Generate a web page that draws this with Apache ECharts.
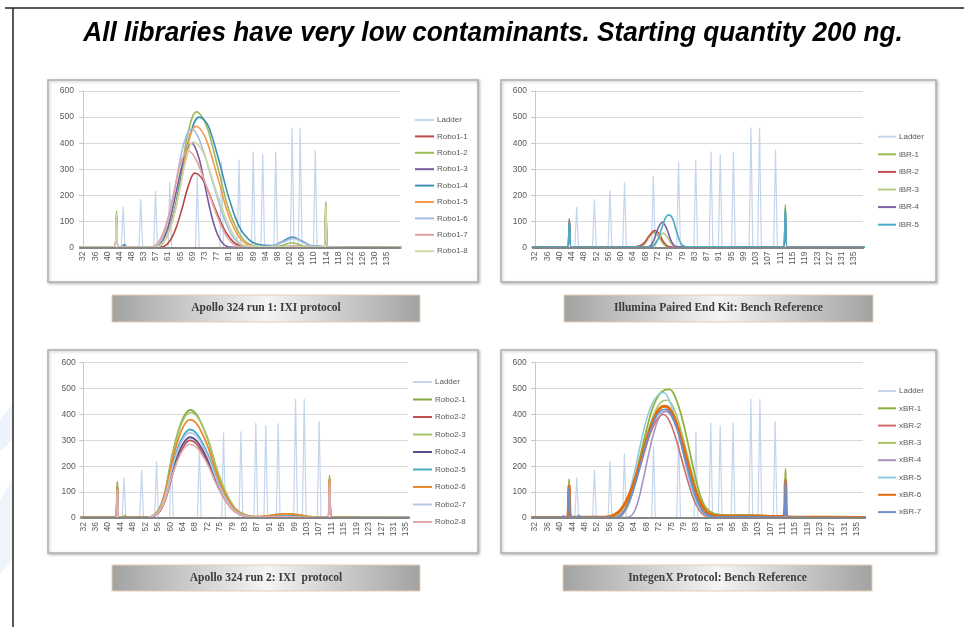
<!DOCTYPE html>
<html>
<head>
<meta charset="utf-8">
<script src="https://cdn.jsdelivr.net/npm/echarts@6/dist/echarts.min.js"></script>
<style>
  html, body { margin: 0; padding: 0; background: #fff; }
  #main { width: 964px; height: 627px; }
</style>
</head>
<body>
<div id="main"></div>
<script>
// x positions are given in tick-label slots (0 = first label)
var ticksA = [32,36,40,44,48,53,57,61,65,69,73,77,81,85,89,94,98,102,106,110,114,118,122,126,130,135];
var ticksB = [32,36,40,44,48,52,56,60,64,68,72,75,79,83,87,91,95,99,103,107,111,115,119,123,127,131,135];

// ladder peaks per panel
var ladderPos1 = [3.3,4.75,5.96,7.14,9.4,11.4,12.83,14.0,14.78,15.85,17.2,17.86,19.1];
var ladderH1   = [157,186,218,250,275,330,336,368,359,368,460,460,374];
var ladderPos2 = [3.4,4.84,6.11,7.3,9.65,11.7,13.1,14.35,15.1,16.17,17.6,18.3,19.6];
var ladderH2   = [155,185,218,250,275,330,335,368,358,368,460,460,375];
var ladderPos3 = [3.28,4.7,5.9,7.1,9.35,11.3,12.7,13.9,14.7,15.7,17.1,17.8,19.0];
var ladderH3   = [155,186,218,250,275,330,335,368,358,366,460,460,375];
var ladderPos4 = [3.37,4.8,6.06,7.22,9.57,11.6,13.0,14.2,14.96,16.0,17.44,18.17,19.4];
var ladderH4   = [155,185,218,250,275,330,335,368,358,368,460,460,375];

// Apollo 324 run 1
var names1 = ['Robo1-1','Robo1-2','Robo1-3','Robo1-4','Robo1-5','Robo1-6','Robo1-7','Robo1-8'];
var robo1_1 = [[-0.3,1],[2.6,1],[2.75,125],[2.9,1],[6.3,1],[6.9,12],[7.5,57],[8.1,142],[8.7,242],[9.2,285],[9.6,275],[10.0,248],[10.8,157],[11.6,71],[12.4,20],[13.2,4],[14,2],[16.2,2],[17.2,5],[18.2,2],[19.82,2],[19.97,140],[20.12,2],[21,1],[26.3,0]];
var robo1_2 = [[-0.3,1],[2.6,1],[2.75,140],[2.9,1],[5.9,1],[6.6,21],[7.3,104],[8.0,260],[8.65,442],[9.34,520],[9.8,500],[10.27,452],[11.2,286],[12.1,130],[13.1,36],[14.0,8],[15,4],[16.2,6],[17.2,18],[18.1,6],[19.82,3],[19.97,175],[20.12,2],[21,1],[26.3,0]];
var robo1_3 = [[-0.3,1],[2.6,1],[2.75,110],[2.9,1],[5.8,1],[6.4,16],[7.0,80],[7.6,200],[8.3,340],[8.93,400],[9.5,348],[10.1,220],[10.7,100],[11.3,28],[11.95,3],[13,1],[19.82,1],[19.97,120],[20.12,1],[26.3,0]];
var robo1_4 = [[-0.3,1],[2.6,1],[2.75,120],[2.9,2],[3.2,4],[3.4,11],[3.6,3],[5.9,2],[6.6,20],[7.3,100],[8.0,250],[8.8,430],[9.56,500],[10.0,488],[10.4,455],[11.2,330],[12.0,190],[12.9,75],[13.8,24],[14.6,10],[15.5,7],[16.3,20],[17.2,40],[18.0,25],[18.7,8],[19.5,5],[19.82,4],[19.97,130],[20.12,4],[21,2],[26.3,0]];
var robo1_5 = [[-0.3,1],[2.6,1],[2.75,100],[2.9,1],[5.9,1],[6.6,18],[7.3,92],[8.0,235],[8.65,400],[9.29,465],[9.75,448],[10.2,405],[11.1,265],[12.0,120],[12.9,36],[13.7,8],[14.5,3],[19.82,2],[19.97,150],[20.12,2],[26.3,0]];
var robo1_6 = [[-0.3,1],[2.6,1],[2.75,90],[2.9,1],[5.7,1],[6.3,18],[6.9,90],[7.6,240],[8.3,400],[8.93,455],[9.4,430],[9.9,370],[10.8,230],[11.7,100],[12.5,30],[13.3,8],[14.5,4],[15.5,6],[16.4,20],[17.3,35],[18.1,20],[18.8,6],[19.82,3],[19.97,100],[20.12,2],[26.3,0]];
var robo1_7 = [[-0.3,1],[2.6,1],[2.75,80],[2.9,1],[5.5,1],[6.1,14],[6.7,70],[7.4,190],[8.0,320],[8.65,370],[9.2,345],[9.8,280],[10.6,175],[11.4,80],[12.1,25],[12.8,5],[19.82,1],[19.97,110],[20.12,1],[26.3,0]];
var robo1_8 = [[-0.3,1],[2.6,1],[2.75,130],[2.9,1],[5.9,1],[6.5,15],[7.2,80],[7.9,210],[8.5,340],[9.07,405],[9.6,385],[10.1,340],[11.0,210],[11.9,95],[12.7,28],[13.4,6],[19.82,2],[19.97,160],[20.12,2],[26.3,0]];

// Illumina Paired End Kit
var names2 = ['iBR-1','iBR-2','iBR-3','iBR-4','iBR-5'];
var ibr_1 = [[-0.3,2],[2.65,2],[2.8,100],[2.95,2],[8.4,2],[8.9,12],[9.3,40],[9.7,58],[10.1,40],[10.5,12],[10.9,3],[20.25,2],[20.4,165],[20.55,2],[27,1]];
var ibr_2 = [[-0.3,2],[2.65,2],[2.8,110],[2.95,2],[7.8,2],[8.4,5],[8.9,18],[9.35,48],[9.78,65],[10.15,50],[10.5,20],[10.9,4],[11.5,2],[20.25,2],[20.4,135],[20.55,2],[27,1]];
var ibr_3 = [[-0.3,2],[2.65,2],[2.8,90],[2.95,2],[9.3,2],[9.7,12],[10.1,38],[10.46,55],[10.8,38],[11.2,10],[11.6,2],[20.25,2],[20.4,130],[20.55,2],[27,1]];
var ibr_4 = [[-0.3,2],[2.65,2],[2.8,95],[2.95,2],[9.2,2],[9.6,20],[10.0,70],[10.38,97],[10.75,70],[11.15,20],[11.55,3],[20.25,2],[20.4,120],[20.55,2],[27,1]];
var ibr_5 = [[-0.3,2],[2.65,2],[2.8,105],[2.95,2],[9.4,2],[9.9,20],[10.3,70],[10.65,115],[10.92,125],[11.2,112],[11.55,60],[11.9,15],[12.3,3],[20.25,2],[20.4,150],[20.55,2],[27,1]];

// Apollo 324 run 2
var names3 = ['Robo2-1','Robo2-2','Robo2-3','Robo2-4','Robo2-5','Robo2-6','Robo2-7','Robo2-8'];
var robo2_1 = [[-0.3,2],[2.6,2],[2.74,140],[2.88,3],[3.2,3],[3.35,9],[3.5,3],[5.1,2],[5.6,9],[6.1,34],[6.6,105],[7.1,228],[7.6,326],[8.1,392],[8.6,418],[9.1,402],[9.6,356],[10.1,294],[10.6,210],[11.1,140],[11.6,85],[12.1,44],[12.6,22],[13.2,10],[13.8,5],[14.6,6],[15.5,12],[16.4,16],[17.3,12],[18.2,5],[19.7,3],[19.84,165],[19.98,3],[21,2],[26.3,1]];
var robo2_2 = [[-0.3,2],[2.6,2],[2.74,125],[2.88,3],[5.2,2],[5.7,7],[6.2,27],[6.7,82],[7.2,170],[7.7,240],[8.2,285],[8.6,300],[9.1,287],[9.6,252],[10.1,205],[10.6,147],[11.1,96],[11.6,57],[12.1,29],[12.6,14],[13.2,6],[13.8,3],[14.6,4],[15.5,7],[16.4,9],[17.3,7],[18.2,3],[19.7,2],[19.84,155],[19.98,2],[21,1],[26.3,1]];
var robo2_3 = [[-0.3,2],[2.6,2],[2.74,130],[2.88,3],[3.2,3],[3.35,7],[3.5,3],[5.1,2],[5.6,8],[6.1,33],[6.6,102],[7.1,222],[7.6,318],[8.1,384],[8.65,408],[9.15,393],[9.65,350],[10.15,290],[10.65,208],[11.15,138],[11.65,84],[12.15,43],[12.65,21],[13.2,9],[13.8,5],[14.6,6],[15.5,11],[16.4,14],[17.3,11],[18.2,5],[19.7,3],[19.84,160],[19.98,3],[21,2],[26.3,1]];
var robo2_4 = [[-0.3,1],[2.6,1],[2.74,100],[2.88,2],[5.1,1],[5.6,6],[6.1,25],[6.6,78],[7.1,170],[7.6,242],[8.1,292],[8.6,312],[9.1,299],[9.6,264],[10.1,216],[10.6,154],[11.1,101],[11.6,61],[12.1,31],[12.6,15],[13.2,6],[13.8,3],[15.5,6],[16.4,8],[17.3,6],[18.2,3],[19.7,2],[19.84,120],[19.98,2],[21,1],[26.3,1]];
var robo2_5 = [[-0.3,2],[2.6,2],[2.74,115],[2.88,3],[5.1,2],[5.6,7],[6.1,28],[6.6,88],[7.1,190],[7.6,268],[8.1,321],[8.6,342],[9.1,328],[9.6,290],[10.1,238],[10.6,170],[11.1,112],[11.6,67],[12.1,34],[12.6,17],[13.2,7],[13.8,3],[15.5,6],[16.4,8],[17.3,6],[18.2,3],[19.7,2],[19.84,130],[19.98,2],[21,1],[26.3,1]];
var robo2_6 = [[-0.3,2],[2.6,2],[2.74,120],[2.88,3],[5.1,2],[5.6,8],[6.1,30],[6.6,96],[7.1,208],[7.6,296],[8.1,357],[8.6,380],[9.1,366],[9.6,324],[10.1,267],[10.6,191],[11.1,126],[11.6,77],[12.1,39],[12.6,19],[13.2,8],[13.8,5],[14.6,7],[15.5,13],[16.4,16],[17.3,13],[18.2,5],[19.7,3],[19.84,150],[19.98,3],[21,2],[26.3,1]];
var robo2_7 = [[-0.3,1],[2.6,1],[2.74,90],[2.88,2],[5.1,1],[5.6,7],[6.1,27],[6.6,84],[7.1,182],[7.6,258],[8.1,310],[8.6,330],[9.1,317],[9.6,280],[10.1,230],[10.6,164],[11.1,108],[11.6,65],[12.1,33],[12.6,16],[13.2,7],[13.8,3],[16.4,6],[18.2,2],[19.7,2],[19.84,100],[19.98,2],[21,1],[26.3,1]];
var robo2_8 = [[-0.3,1],[2.6,1],[2.74,110],[2.88,2],[5.1,1],[5.6,6],[6.1,23],[6.6,72],[7.1,157],[7.6,223],[8.1,268],[8.6,285],[9.1,274],[9.6,242],[10.1,199],[10.6,142],[11.1,94],[11.6,56],[12.1,29],[12.6,14],[13.2,6],[13.8,3],[16.4,6],[18.2,2],[19.7,2],[19.84,140],[19.98,2],[21,1],[26.3,1]];

// IntegenX Protocol
var names4 = ['xBR-1','xBR-2','xBR-3','xBR-4','xBR-5','xBR-6','xBR-7'];
var xbr_1 = [[-0.3,2],[2.6,2],[2.75,150],[2.9,3],[6.5,3],[7.0,15],[7.5,60],[8.0,140],[8.5,240],[9.0,340],[9.5,425],[10.0,475],[10.5,495],[10.86,497],[11.3,470],[11.8,400],[12.3,300],[12.8,190],[13.3,95],[13.8,40],[14.4,18],[15.2,12],[16.5,11],[18,10],[19.2,8],[20.09,8],[20.24,190],[20.39,6],[21.2,4],[23,3],[26.8,2]];
var xbr_2 = [[-0.3,2],[2.6,2],[2.75,110],[2.9,2],[6.3,2],[6.8,8],[7.3,35],[7.8,90],[8.3,165],[8.8,248],[9.3,325],[9.8,378],[10.1,395],[10.38,400],[10.8,380],[11.3,320],[11.8,235],[12.3,150],[12.8,75],[13.3,28],[13.8,8],[14.5,5],[17,6],[19.5,4],[20.09,4],[20.24,130],[20.39,3],[22,2],[26.8,1]];
var xbr_3 = [[-0.3,2],[2.6,2],[2.75,140],[2.9,2],[6.5,2],[6.9,6],[7.4,35],[7.9,100],[8.4,190],[8.9,290],[9.4,375],[9.9,430],[10.3,452],[10.7,455],[11.2,425],[11.7,355],[12.2,265],[12.7,170],[13.2,90],[13.7,38],[14.2,15],[14.8,9],[17,9],[19.5,6],[20.09,6],[20.24,160],[20.39,5],[22,3],[26.8,2]];
var xbr_4 = [[-0.3,2],[2.6,2],[2.75,100],[2.9,2],[7.4,2],[7.9,15],[8.3,60],[8.7,140],[9.1,230],[9.6,330],[10.1,395],[10.57,412],[11.0,395],[11.5,340],[12.0,255],[12.5,165],[13.0,85],[13.5,35],[14.0,12],[14.5,5],[17,6],[19.5,4],[20.09,4],[20.24,120],[20.39,3],[22,2],[26.8,1]];
var xbr_5 = [[-0.3,2],[2.6,2],[2.75,105],[2.9,2],[6.2,2],[6.6,10],[7.0,30],[7.5,80],[8.0,170],[8.5,280],[9.0,380],[9.5,445],[10.0,478],[10.38,485],[10.8,460],[11.3,390],[11.8,290],[12.3,180],[12.8,90],[13.3,35],[13.8,12],[14.4,5],[17,5],[19.5,4],[20.09,4],[20.24,140],[20.39,3],[22,2],[26.8,1]];
var xbr_6 = [[-0.3,2],[2.6,2],[2.75,125],[2.9,3],[5.6,3],[6.0,5],[6.4,12],[6.9,30],[7.4,68],[7.9,125],[8.4,200],[8.9,285],[9.4,360],[9.9,412],[10.2,428],[10.5,432],[10.9,420],[11.4,370],[11.9,290],[12.4,200],[12.9,115],[13.4,55],[13.9,22],[14.4,10],[15.5,7],[17.5,8],[19.5,6],[20.09,6],[20.24,145],[20.39,4],[22,3],[26.8,2]];
var xbr_7 = [[-0.3,2],[2.15,2],[2.3,8],[2.45,2],[2.6,2],[2.75,120],[2.9,3],[3.4,3],[3.55,10],[3.7,3],[6.6,2],[7.2,25],[7.7,75],[8.2,150],[8.7,240],[9.2,320],[9.7,385],[10.2,415],[10.57,420],[11.0,400],[11.5,340],[12.0,250],[12.5,160],[13.0,80],[13.5,30],[14.0,10],[14.6,4],[17,5],[19.5,3],[20.09,3],[20.24,150],[20.39,3],[22,2],[26.8,1]];

var captions = ['Apollo 324 run 1: IXI protocol', 'Illumina Paired End Kit: Bench Reference',
                'Apollo 324 run 2: IXI  protocol', 'IntegenX Protocol: Bench Reference'];
var titleText = 'All libraries have very low contaminants. Starting quantity 200 ng.';

var FONT = '"Liberation Sans", Arial, sans-serif';
var LADDER_COLOR = '#c4d5ec';

// layout of the four panels
var panels = [
  { grid: {left: 80, top: 91, width: 320, height: 156.5}, xr: [-0.25, 26.07], ticks: ticksA,
    legend: {left: 415, top: 115, gap: 6.4, w: 19},
    lpos: ladderPos1, lh: ladderH1, names: names1,
    lines: [robo1_1, robo1_2, robo1_3, robo1_4, robo1_5, robo1_6, robo1_7, robo1_8],
    colors: ['#b84a47','#9bbb59','#7a5b9f','#3f8fb5','#f79646','#a4bde0','#e3a3a2','#cddba8'],
    widths: [1.6,1.6,1.6,1.6,1.6,1.6,1.6,1.6] },
  { grid: {left: 533, top: 91, width: 330, height: 156.5}, xr: [-0.16, 26.73], ticks: ticksB,
    legend: {left: 878, top: 131.7, gap: 7.6, w: 18},
    lpos: ladderPos2, lh: ladderH2, names: names2,
    lines: [ibr_1, ibr_2, ibr_3, ibr_4, ibr_5],
    colors: ['#9bbb59','#c0504d','#b5cc7e','#7d60a0','#4bacc6'],
    widths: [1.6,1.6,1.6,1.6,1.6] },
  { grid: {left: 81.7, top: 362.7, width: 326.3, height: 155.3}, xr: [-0.13, 26.16], ticks: ticksB,
    legend: {left: 413, top: 377, gap: 7.5, w: 19},
    lpos: ladderPos3, lh: ladderH3, names: names3,
    lines: [robo2_1, robo2_2, robo2_3, robo2_4, robo2_5, robo2_6, robo2_7, robo2_8],
    colors: ['#86a844','#c0504d','#a9c46c','#5e4b8b','#4bacc6','#e8892e','#b4c8e6','#e3aaa8'],
    widths: [1.8,1.6,1.6,1.8,1.8,1.8,1.6,1.6] },
  { grid: {left: 532.7, top: 362.7, width: 330.3, height: 155.3}, xr: [-0.19, 26.5], ticks: ticksB,
    legend: {left: 878, top: 386, gap: 7.3, w: 18},
    lpos: ladderPos4, lh: ladderH4, names: names4,
    lines: [xbr_1, xbr_2, xbr_3, xbr_4, xbr_5, xbr_6, xbr_7],
    colors: ['#8db23f','#d06b68','#a8c46b','#a593c2','#8fcbdc','#e46c0a','#6f8fcc'],
    widths: [1.8,1.6,1.6,1.6,1.6,3,1.8] }
];

function ladderData(pos, h, xmax) {
  var d = [[-0.3, 0]];
  pos.forEach(function (p, k) {
    d.push([p - 0.15, 0], [p, h[k]], [p + 0.15, 0]);
  });
  d.push([xmax, 0]);
  return d;
}

var grids = [], xAxes = [], yAxes = [], legends = [], series = [];
panels.forEach(function (p, k) {
  grids.push(p.grid);
  var ticks = p.ticks;
  xAxes.push({
    type: 'value', gridIndex: k, min: p.xr[0], max: p.xr[1], z: 20,
    axisLine: {show: true, lineStyle: {color: '#858585', width: 2.2}},
    axisTick: {show: false},
    splitLine: {show: false},
    axisLabel: {
      customValues: ticks.map(function (t, i) { return i; }),
      formatter: function (v) { return String(ticks[Math.round(v)]); },
      rotate: 90, fontSize: 8.5, color: '#595959', fontFamily: FONT, margin: 4
    }
  });
  yAxes.push({
    type: 'value', gridIndex: k, min: 0, max: 600, interval: 100,
    axisLine: {show: true, lineStyle: {color: '#c8c8c8', width: 1}},
    axisTick: {show: true, length: 4, lineStyle: {color: '#c8c8c8'}},
    splitLine: {lineStyle: {color: '#d9d9d9', width: 1}},
    axisLabel: {fontSize: 8.5, color: '#595959', fontFamily: FONT, margin: 6}
  });
  var legItems = ['Ladder'].concat(p.names).map(function (n, j) {
    var c = j === 0 ? LADDER_COLOR : p.colors[j - 1];
    return {name: n, icon: 'rect', itemStyle: {color: c}};
  });
  legends.push({
    orient: 'vertical', left: p.legend.left, top: p.legend.top,
    itemWidth: p.legend.w, itemHeight: 2, itemGap: p.legend.gap,
    selectedMode: false, padding: 0,
    data: legItems,
    textStyle: {fontSize: 8, color: '#595959', fontFamily: FONT, lineHeight: 10, padding: [0, 0, 0, -2]}
  });
  series.push({
    type: 'line', name: 'Ladder', xAxisIndex: k, yAxisIndex: k,
    data: ladderData(p.lpos, p.lh, p.xr[1] + 0.5),
    symbol: 'none', smooth: false, silent: true, z: 2,
    lineStyle: {color: LADDER_COLOR, width: 1.2}, itemStyle: {color: LADDER_COLOR}
  });
  p.lines.forEach(function (d, j) {
    series.push({
      type: 'line', name: p.names[j], xAxisIndex: k, yAxisIndex: k,
      data: d, symbol: 'none', smooth: 0.4, silent: true, z: 3 + j,
      lineStyle: {color: p.colors[j], width: p.widths[j]}, itemStyle: {color: p.colors[j]}
    });
  });
});

// panel frames and caption bars
var frames = [[48, 80, 430, 202], [501, 80, 435, 202], [48, 350, 430, 203], [501, 350, 435, 203]];
var capBoxes = [[112, 295, 308, 27], [564, 295, 309, 27], [112, 565, 308, 26], [563, 565, 309, 26]];
var graphics = [];
frames.forEach(function (f) {
  graphics.push({
    type: 'rect', z: -10, shape: {x: f[0], y: f[1], width: f[2], height: f[3]},
    style: {fill: '#fff', stroke: '#b0b0b0', lineWidth: 1.5,
            shadowBlur: 3, shadowColor: 'rgba(0,0,0,0.25)', shadowOffsetX: 1, shadowOffsetY: 1}
  });
});
capBoxes.forEach(function (c, k) {
  graphics.push({
    type: 'rect', z: -10, shape: {x: c[0], y: c[1], width: c[2], height: c[3]},
    style: {
      fill: new echarts.graphic.LinearGradient(0, 0, 1, 0, [
        {offset: 0, color: '#a2a2a2'}, {offset: 0.5, color: '#f4f4f4'}, {offset: 1, color: '#a2a2a2'}]),
      stroke: '#e6cdb1', lineWidth: 1
    }
  });
  graphics.push({
    type: 'text', z: -9, x: c[0] + c[2] / 2, y: c[1] + c[3] / 2,
    style: {text: captions[k], font: 'bold 11.5px "Liberation Serif", serif', fill: '#3c3c3c',
            textAlign: 'center', textVerticalAlign: 'middle'}
  });
});
graphics.push({
  type: 'text', z: 5, x: 493, y: 34, scaleX: 0.97,
  style: {text: titleText, font: 'italic bold 27px "Liberation Sans", Arial, sans-serif', fill: '#000',
          textAlign: 'center', textVerticalAlign: 'middle'}
});
graphics.push({type: 'line', z: 5, shape: {x1: 5, y1: 8, x2: 964, y2: 8}, style: {stroke: '#222', lineWidth: 1.5}});
graphics.push({type: 'line', z: 5, shape: {x1: 13, y1: 8, x2: 13, y2: 627}, style: {stroke: '#222', lineWidth: 1.5}});
graphics.push({type: 'polygon', z: -11, shape: {points: [[0, 420], [12, 405], [12, 440], [0, 452]]}, style: {fill: '#edf3fa'}});
graphics.push({type: 'polygon', z: -11, shape: {points: [[0, 500], [12, 480], [12, 560], [0, 575]]}, style: {fill: '#eef4fa'}});

var chart = echarts.init(document.getElementById('main'));
chart.setOption({
  animation: false,
  backgroundColor: '#fff',
  grid: grids,
  xAxis: xAxes,
  yAxis: yAxes,
  legend: legends,
  series: series,
  graphic: graphics
});
</script>
</body>
</html>
